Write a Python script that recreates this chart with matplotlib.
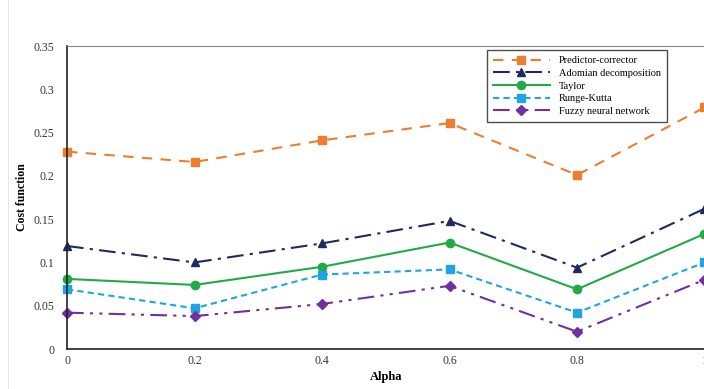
import numpy as np
import matplotlib
matplotlib.use("Agg")
import matplotlib.pyplot as plt
from matplotlib.lines import Line2D

plt.rcParams['font.family'] = ['Liberation Serif', 'DejaVu Serif']

alpha = [0, 0.2, 0.4, 0.6, 0.8, 1.0]
predictor_corrector = [0.228, 0.216, 0.241, 0.261, 0.201, 0.279]
adomian = [0.119, 0.100, 0.122, 0.148, 0.094, 0.162]
taylor = [0.081, 0.074, 0.095, 0.123, 0.069, 0.133]
runge_kutta = [0.069, 0.047, 0.086, 0.092, 0.042, 0.100]
fuzzy_nn = [0.042, 0.038, 0.052, 0.073, 0.020, 0.080]

labels = ["Predictor-corrector", "Adomian decomposition", "Taylor",
          "Runge-Kutta", "Fuzzy neural network"]
series = [predictor_corrector, adomian, taylor, runge_kutta, fuzzy_nn]
colors = ["#ED7D31", "#1F2A5E", "#22AA48", "#1FA6E0", "#7030A0"]
markers = ["s", "^", "o", "s", "D"]
styles = [(0, (5, 4)), (0, (8, 3, 1.5, 3)), "-", (0, (3, 2)),
          (0, (8, 3, 1.5, 3, 1.5, 3))]
msizes = [6, 6, 6, 6, 5]

fig = plt.figure(figsize=(7.04, 3.89), dpi=100)
ax = fig.add_axes([0.0952, 0.1028, 0.9055, 0.7789])

for y, lab, c, m, ls, ms in zip(series, labels, colors, markers, styles, msizes):
    ax.plot(alpha, y, color=c, marker=m, linestyle=ls, linewidth=1.5,
            markersize=ms, label=lab, clip_on=False)

ax.set_xlim(0, 1)
ax.set_ylim(0, 0.35)
ax.set_xticks(alpha)
ax.set_xticklabels(["0", "0.2", "0.4", "0.6", "0.8", "1"])
ax.set_yticks(np.arange(0, 0.351, 0.05))
ax.set_yticklabels(["0", "0.05", "0.1", "0.15", "0.2", "0.25", "0.3", "0.35"])
ax.tick_params(length=0, labelsize=8.5, colors="#333333")
ax.tick_params(axis="x", pad=4)
ax.tick_params(axis="y", pad=9)

ax.spines['right'].set_visible(False)
ax.spines['top'].set_color("#8a8a8a")
ax.spines['left'].set_color("#222222")
ax.spines['bottom'].set_color("#222222")
ax.spines['left'].set_linewidth(1.2)
ax.spines['bottom'].set_linewidth(1.2)

ax.set_xlabel("Alpha", fontweight="bold", fontsize=9, labelpad=3)
ax.set_ylabel("Cost function", fontweight="bold", fontsize=8.5, labelpad=4)

leg = ax.legend(loc="upper left", bbox_to_anchor=(0.659, 0.988), fontsize=7.5,
                handlelength=5.4, frameon=True, fancybox=False,
                edgecolor="#222222", borderpad=0.6, labelspacing=0.33,
                handletextpad=0.9, borderaxespad=0)
leg.get_frame().set_linewidth(1.0)

fig.add_artist(Line2D([0.012, 0.012], [0.0, 1.0], color="#e6e6e6", linewidth=0.8))

fig.savefig("out.png", dpi=100)
